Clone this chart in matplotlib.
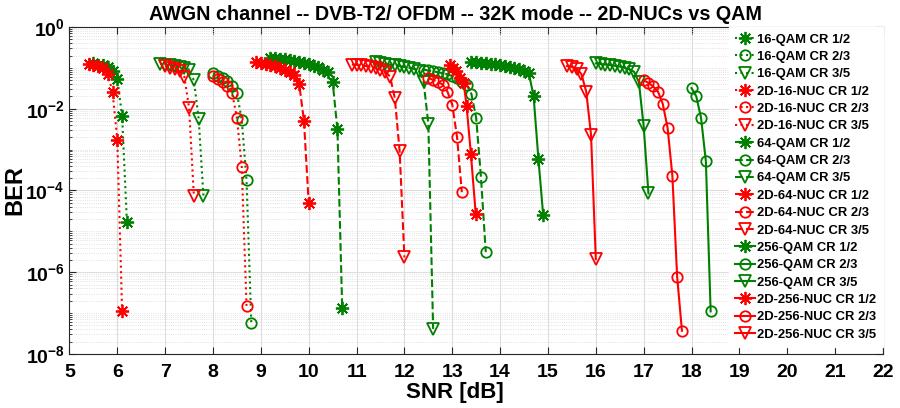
import numpy as np
import matplotlib
matplotlib.use("Agg")
import matplotlib.pyplot as plt
from matplotlib.ticker import FixedLocator, LogLocator, NullFormatter

plt.rcParams['font.family'] = 'Liberation Sans'
plt.rcParams['font.weight'] = 'bold'
plt.rcParams['mathtext.fontset'] = 'custom'
plt.rcParams['mathtext.bf'] = 'Liberation Sans:bold'
plt.rcParams['mathtext.rm'] = 'Liberation Sans:bold'

GREEN = '#008000'
RED = '#ff0000'

# --- data ---
qam16_r12_snr = [5.5, 5.6, 5.7, 5.8, 5.9, 6.0, 6.1, 6.2]
qam16_r12_ber = [0.13, 0.12, 0.115, 0.105, 0.085, 0.053, 0.0065, 1.7e-5]
qam16_r23_snr = [8.0, 8.1, 8.2, 8.3, 8.4, 8.5, 8.6, 8.7, 8.8]
qam16_r23_ber = [0.074, 0.064, 0.056, 0.047, 0.036, 0.024, 0.0054, 1.8e-4, 5.7e-8]
qam16_r35_snr = [6.9, 7.0, 7.1, 7.2, 7.3, 7.4, 7.5, 7.6, 7.7, 7.8]
qam16_r35_ber = [0.125, 0.12, 0.115, 0.11, 0.105, 0.1, 0.09, 0.049, 0.0057, 7.2e-5]

nuc16_r12_snr = [5.4, 5.5, 5.6, 5.7, 5.8, 5.9, 6.0, 6.1]
nuc16_r12_ber = [0.125, 0.12, 0.112, 0.1, 0.07, 0.026, 0.0017, 1.1e-7]
nuc16_r23_snr = [8.0, 8.1, 8.2, 8.3, 8.4, 8.5, 8.6, 8.7]
nuc16_r23_ber = [0.062, 0.053, 0.045, 0.035, 0.024, 0.0059, 3.8e-4, 1.5e-7]
nuc16_r35_snr = [7.0, 7.1, 7.2, 7.3, 7.4, 7.5, 7.6]
nuc16_r35_ber = [0.11, 0.1, 0.095, 0.085, 0.06, 0.0104, 7.2e-5]

qam64_r12_snr = [9.2, 9.3, 9.4, 9.5, 9.6, 9.7, 9.8, 9.9, 10.0, 10.1, 10.2, 10.3, 10.4, 10.5, 10.6, 10.7]
qam64_r12_ber = [0.175, 0.17, 0.165, 0.16, 0.155, 0.148, 0.14, 0.132, 0.123, 0.113, 0.102, 0.09, 0.077,
                 0.045, 0.0031, 1.3e-7]
qam64_r23_snr = [12.4, 12.5, 12.6, 12.7, 12.8, 12.9, 13.0, 13.1, 13.2, 13.3, 13.4, 13.5, 13.6, 13.7]
qam64_r23_ber = [0.09, 0.086, 0.082, 0.078, 0.074, 0.069, 0.063, 0.056, 0.046, 0.039, 0.023, 0.0059,
                 2.1e-4, 3.1e-6]
qam64_r35_snr = [11.4, 11.5, 11.6, 11.7, 11.8, 11.9, 12.0, 12.1, 12.2, 12.3, 12.4, 12.5, 12.6]
qam64_r35_ber = [0.135, 0.13, 0.125, 0.12, 0.115, 0.11, 0.105, 0.1, 0.094, 0.085, 0.046, 0.0043, 4.1e-8]

nuc64_r12_snr = [8.9, 9.0, 9.1, 9.2, 9.3, 9.4, 9.5, 9.6, 9.7, 9.8, 9.9, 10.0]
nuc64_r12_ber = [0.14, 0.132, 0.125, 0.117, 0.108, 0.099, 0.088, 0.078, 0.067, 0.041, 0.0051, 4.8e-5]
nuc64_r23_snr = [12.5, 12.6, 12.7, 12.8, 12.9, 13.0, 13.1, 13.2]
nuc64_r23_ber = [0.056, 0.051, 0.045, 0.039, 0.026, 0.0126, 0.002, 9.1e-5]
nuc64_r35_snr = [10.9, 11.0, 11.1, 11.2, 11.3, 11.4, 11.5, 11.6, 11.7, 11.8, 11.9, 12.0]
nuc64_r35_ber = [0.12, 0.118, 0.115, 0.11, 0.105, 0.098, 0.09, 0.08, 0.061, 0.018, 9.1e-4, 2.3e-6]

qam256_r12_snr = [13.4, 13.5, 13.6, 13.7, 13.8, 13.9, 14.0, 14.1, 14.2, 14.3, 14.4, 14.5, 14.6,
                  14.7, 14.8, 14.9]
qam256_r12_ber = [0.14, 0.137, 0.134, 0.13, 0.126, 0.122, 0.117, 0.112, 0.107, 0.1, 0.093, 0.085,
                  0.074, 0.02, 6e-4, 2.5e-5]
qam256_r23_snr = [18.0, 18.1, 18.2, 18.3, 18.4]
qam256_r23_ber = [0.032, 0.02, 0.0059, 5.2e-4, 1.1e-7]
qam256_r35_snr = [16.0, 16.1, 16.2, 16.3, 16.4, 16.5, 16.6, 16.7, 16.8, 16.9, 17.0, 17.1]
qam256_r35_ber = [0.128, 0.124, 0.12, 0.116, 0.112, 0.107, 0.1, 0.092, 0.08, 0.045, 0.0037, 8.5e-5]

nuc256_r12_snr = [12.96, 13.02, 13.08, 13.17, 13.24, 13.3, 13.39, 13.49]
nuc256_r12_ber = [0.12, 0.1, 0.083, 0.056, 0.042, 0.0114, 7.6e-4, 2.7e-5]
nuc256_r23_snr = [17.0, 17.1, 17.2, 17.3, 17.4, 17.5, 17.6, 17.7, 17.8]
nuc256_r23_ber = [0.049, 0.043, 0.035, 0.026, 0.013, 0.0034, 2.3e-4, 7.7e-7, 3.7e-8]
nuc256_r35_snr = [15.4, 15.5, 15.6, 15.7, 15.8, 15.9, 16.0]
nuc256_r35_ber = [0.11, 0.105, 0.095, 0.07, 0.026, 0.0023, 2.1e-6]

curves = [
    ("16-QAM CR 1/2", qam16_r12_snr, qam16_r12_ber, GREEN, ':', 'star'),
    ("16-QAM CR 2/3", qam16_r23_snr, qam16_r23_ber, GREEN, ':', 'o'),
    ("16-QAM CR 3/5", qam16_r35_snr, qam16_r35_ber, GREEN, ':', 'v'),
    ("2D-16-NUC CR 1/2", nuc16_r12_snr, nuc16_r12_ber, RED, ':', 'star'),
    ("2D-16-NUC CR 2/3", nuc16_r23_snr, nuc16_r23_ber, RED, ':', 'o'),
    ("2D-16-NUC CR 3/5", nuc16_r35_snr, nuc16_r35_ber, RED, ':', 'v'),
    ("64-QAM CR 1/2", qam64_r12_snr, qam64_r12_ber, GREEN, '--', 'star'),
    ("64-QAM CR 2/3", qam64_r23_snr, qam64_r23_ber, GREEN, '--', 'o'),
    ("64-QAM CR 3/5", qam64_r35_snr, qam64_r35_ber, GREEN, '--', 'v'),
    ("2D-64-NUC CR 1/2", nuc64_r12_snr, nuc64_r12_ber, RED, '--', 'star'),
    ("2D-64-NUC CR 2/3", nuc64_r23_snr, nuc64_r23_ber, RED, '--', 'o'),
    ("2D-64-NUC CR 3/5", nuc64_r35_snr, nuc64_r35_ber, RED, '--', 'v'),
    ("256-QAM CR 1/2", qam256_r12_snr, qam256_r12_ber, GREEN, '-', 'star'),
    ("256-QAM CR 2/3", qam256_r23_snr, qam256_r23_ber, GREEN, '-', 'o'),
    ("256-QAM CR 3/5", qam256_r35_snr, qam256_r35_ber, GREEN, '-', 'v'),
    ("2D-256-NUC CR 1/2", nuc256_r12_snr, nuc256_r12_ber, RED, '-', 'star'),
    ("2D-256-NUC CR 2/3", nuc256_r23_snr, nuc256_r23_ber, RED, '-', 'o'),
    ("2D-256-NUC CR 3/5", nuc256_r35_snr, nuc256_r35_ber, RED, '-', 'v'),
]

fig = plt.figure(figsize=(9, 4.08), dpi=100)
ax = fig.add_axes([0.0772, 0.1324, 0.9038, 0.8016])

for label, snr, ber, col, ls, mk in curves:
    if mk == 'star':
        marker, ms = (8, 2, 0), 9.5
    elif mk == 'o':
        marker, ms = 'o', 7.5
    else:
        marker, ms = 'v', 8.5
    ax.plot(snr, ber, color=col, linestyle=ls, linewidth=1.5, marker=marker,
            markersize=ms, markerfacecolor='none', markeredgecolor=col,
            markeredgewidth=1.3, label=label)

ax.set_yscale('log')
ax.set_xlim(5, 22)
ax.set_ylim(1e-8, 1)
ax.set_xticks(range(5, 23))
ax.set_xticklabels([str(v) for v in range(5, 23)], fontsize=14, fontweight='bold')
ax.yaxis.set_major_locator(FixedLocator([1e-8, 1e-6, 1e-4, 1e-2, 1]))
ax.set_yticklabels([r'$\mathbf{10^{-8}}$', r'$\mathbf{10^{-6}}$', r'$\mathbf{10^{-4}}$',
                    r'$\mathbf{10^{-2}}$', r'$\mathbf{10^{0}}$'], fontsize=14)
ax.yaxis.set_minor_locator(LogLocator(base=10, subs=np.arange(1, 10), numticks=30))
ax.yaxis.set_minor_formatter(NullFormatter())

ax.tick_params(which='both', direction='in', top=True, right=True, colors='#262626')
ax.tick_params(which='major', length=5, width=0.8)
ax.tick_params(which='minor', length=2.5, width=0.6)
ax.tick_params(axis='x', which='minor', top=False, bottom=False)
ax.tick_params(axis='x', pad=7)
ax.tick_params(labelcolor='black')

ax.grid(True, which='major', color='#dddddd', linewidth=0.8, linestyle='-')
ax.grid(True, which='minor', axis='y', color='#d8d8d8', linewidth=0.6, linestyle=':')
ax.set_axisbelow(True)
for sp in ax.spines.values():
    sp.set_color('#262626')
    sp.set_linewidth(0.8)

ax.set_xlabel('SNR [dB]', fontsize=16, fontweight='bold', labelpad=2)
ax.xaxis.set_label_coords(0.474, -0.085)
ax.set_ylabel('BER', fontsize=17, fontweight='bold', labelpad=-1)
ax.set_title('AWGN channel -- DVB-T2/ OFDM -- 32K mode -- 2D-NUCs vs QAM',
             fontsize=14.2, fontweight='bold', pad=5, x=0.474)

leg = ax.legend(loc='upper right', frameon=True, fancybox=False,
                borderaxespad=0.0, handlelength=1.5, handletextpad=0.2,
                labelspacing=0.4, borderpad=0.5, prop={'weight': 'bold', 'size': 9.4})
leg.get_frame().set_edgecolor('white')
leg.get_frame().set_alpha(1.0)

fig.savefig('out.png', dpi=100)
